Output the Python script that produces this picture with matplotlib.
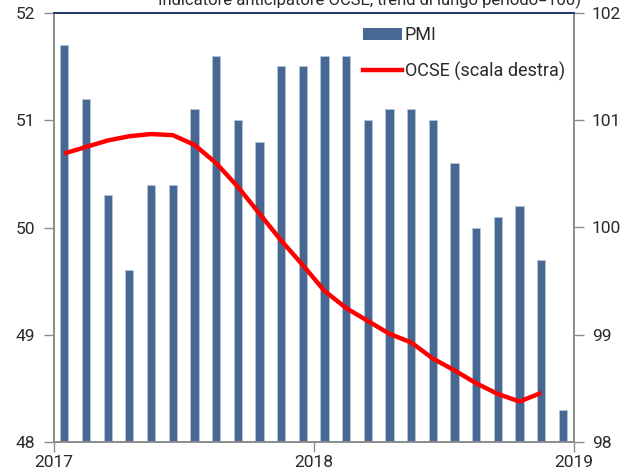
import matplotlib
matplotlib.use("Agg")
import matplotlib.pyplot as plt
from matplotlib.lines import Line2D
from matplotlib.patches import Patch

plt.rcParams["font.family"] = ["Roboto", "DejaVu Sans"]

# monthly data, Jan 2017 - Dec 2018
pmi = [51.7, 51.2, 50.3, 49.6, 50.4, 50.4, 51.1, 51.6, 51.0, 50.8, 51.5, 51.5,
       51.6, 51.6, 51.0, 51.1, 51.1, 51.0, 50.6, 50.0, 50.1, 50.2, 49.7, 48.3]
ocse = [100.69, 100.75, 100.81, 100.85, 100.87, 100.86, 100.77, 100.60, 100.38,
        100.13, 99.88, 99.65, 99.41, 99.25, 99.13, 99.01, 98.93, 98.78, 98.67,
        98.55, 98.45, 98.38, 98.46]
year_labels = ["2017", "2018", "2019"]

bar_color = "#476893"
grey = "#8c8c8c"

fig = plt.figure(figsize=(6.36, 4.68), dpi=100)
ax = fig.add_axes([53.5 / 636, 1 - 442.3 / 468, 520.2 / 636, 429.6 / 468])
ax2 = ax.twinx()

x_bar = [i + 0.5 for i in range(len(pmi))]
x_line = [i + 0.5 for i in range(len(ocse))]

ax.bar(x_bar, pmi, width=0.38, bottom=0, color=bar_color,
       edgecolor="#b7c4d8", linewidth=0.6, zorder=2)
ax2.plot(x_line, ocse, color="red", linewidth=3.2, solid_capstyle="butt", zorder=3)

ax.set_xlim(0, 24)
ax.set_ylim(48, 52)
ax2.set_ylim(98, 102)
ax.set_yticks([48, 49, 50, 51, 52])
ax2.set_yticks([98, 99, 100, 101, 102])
ax.set_xticks([0, 12, 24])
ax.set_xticklabels(year_labels)

for a in (ax, ax2):
    for s in ("left", "right", "bottom"):
        a.spines[s].set_color(grey)
        a.spines[s].set_linewidth(1.2)
    a.spines["top"].set_color("#1f3566")
    a.spines["top"].set_linewidth(1.2)
    a.tick_params(axis="both", direction="out", length=7, width=1,
                  color=grey, labelsize=12.5, labelcolor="#2a2a2a", pad=6)
ax.tick_params(axis="x", pad=2)

handles = [Patch(facecolor=bar_color, label="PMI"),
           Line2D([0], [0], color="red", linewidth=3.2, label="OCSE (scala destra)")]
ax.legend(handles=handles, loc="upper left", bbox_to_anchor=(0.595, 0.968),
          frameon=False, fontsize=13, handlelength=2.15, handletextpad=0.15,
          labelspacing=0.95, borderpad=0, borderaxespad=0, labelcolor="#2a2a2a")

fig.text(369 / 636, 1.0, "Indicatore anticipatore OCSE, trend di lungo periodo=100)",
         ha="center", va="center", fontsize=12, color="#2a2a2a")

fig.savefig("out.png", dpi=100)
